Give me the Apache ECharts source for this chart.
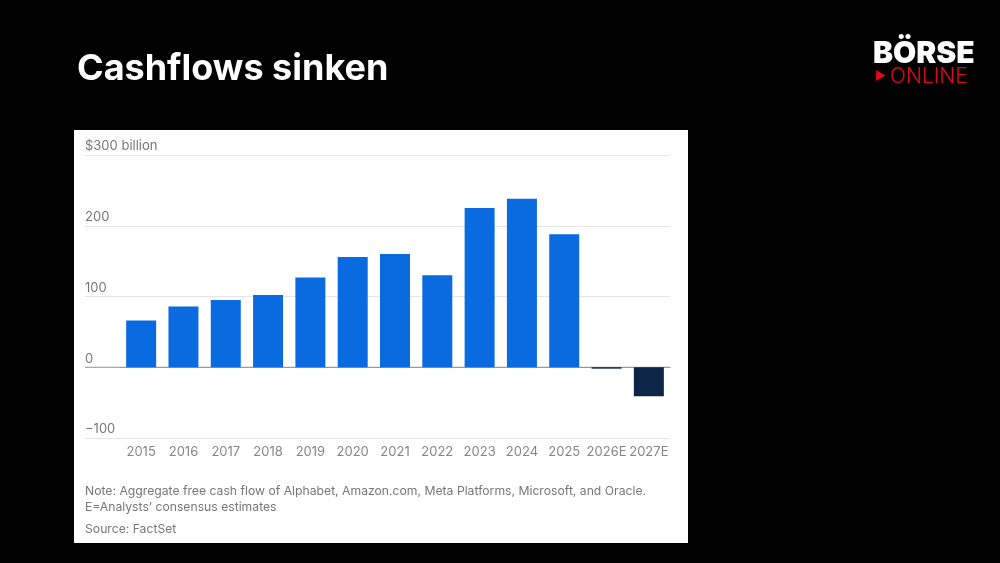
<!DOCTYPE html>
<html><head><meta charset="utf-8">
<script src="https://cdn.jsdelivr.net/npm/echarts@6/dist/echarts.min.js"></script>
<style>html,body{margin:0;padding:0;background:#000;}#c{width:1000px;height:563px;}</style>
</head><body><div id="c"></div>
<script>
const categories = ['2015','2016','2017','2018','2019','2020','2021','2022','2023','2024','2025','2026E','2027E'];
const values = [66, 86, 95, 102, 127, 156, 160, 130, 225, 238, 188, -2, -41];
const estimate = [false,false,false,false,false,false,false,false,false,false,false,true,true];
const tickLabels = {'300':'$300 billion','200':'200','100':'100','0':'0','-100':'\u2212100'};

const chart = echarts.init(document.getElementById('c'));
const font = 'Inter, "Open Sans", sans-serif';
chart.setOption({
  backgroundColor: '#000',
  animation: false,
  graphic: [
    {type:'rect', z:-10, shape:{x:74,y:130,width:614,height:413}, style:{fill:'#fff'}},
    {type:'text', left:77, top:51, style:{text:'Cashflows sinken', fill:'#fff', font:'bold 36px ' + font}},
    {type:'text', left:873, top:39, style:{text:'BÖRSE', fill:'#fff', font:'900 30px ' + font}},
    {type:'text', left:875, top:70, style:{text:'\u25B6', fill:'#e30613', font:'12px ' + font}},
    {type:'text', left:890, top:66, style:{text:'ONLINE', fill:'#e30613', font:'300 21px ' + font}},
    {type:'text', left:85, top:483, style:{text:'Note: Aggregate free cash flow of Alphabet, Amazon.com, Meta Platforms, Microsoft, and Oracle.\nE=Analysts\u2019 consensus estimates', fill:'#777', font:'12.2px ' + font, lineHeight:16}},
    {type:'text', left:85, top:523, style:{text:'Source: FactSet', fill:'#777', font:'12.2px ' + font}}
  ],
  grid: [
    {left:120, right:330, top:155, height:283},
    {left:85, right:330, top:155, height:283}
  ],
  xAxis: [
    {type:'category', gridIndex:0, data:categories,
     axisLine:{show:true, onZero:true, lineStyle:{color:'#999', width:1}},
     axisTick:{show:false},
     axisLabel:{show:false}},
    {type:'value', gridIndex:1, show:false, min:0, max:1}
  ],
  yAxis: [
    {type:'value', gridIndex:0, min:-100, max:300, interval:100, show:false, splitLine:{show:false}},
    {type:'value', gridIndex:1, min:-100, max:300, interval:100,
     axisLine:{show:false}, axisTick:{show:false},
     splitLine:{show:true, lineStyle:{color:'#e6e6e6', width:1}},
     axisLabel:{inside:true, align:'left', verticalAlign:'bottom', margin:0, color:'#777', fontSize:13, fontFamily:font,
       padding:[0,0,2,0], formatter: v => tickLabels[String(v)]}}
  ],
  series: [
    {type:'bar', xAxisIndex:0, yAxisIndex:0, barWidth:30, z:5,
     data: values.map((v,i) => ({value:v, itemStyle:{color: estimate[i] ? '#0b2447' : '#0a6ae0'}})),
     label:{show:false}},
    {type:'scatter', xAxisIndex:0, yAxisIndex:0, symbolSize:0, silent:true,
     data: categories.map(c => [c, -100]),
     label:{show:true, position:'bottom', distance:8, formatter: p => p.name || p.value[0], color:'#666', fontSize:13, fontFamily:font}},
    {type:'line', xAxisIndex:1, yAxisIndex:1, symbol:'none', silent:true, z:1,
     lineStyle:{color:'#999', width:1}, data:[[0,0],[1,0]]}
  ]
});
</script></body></html>
